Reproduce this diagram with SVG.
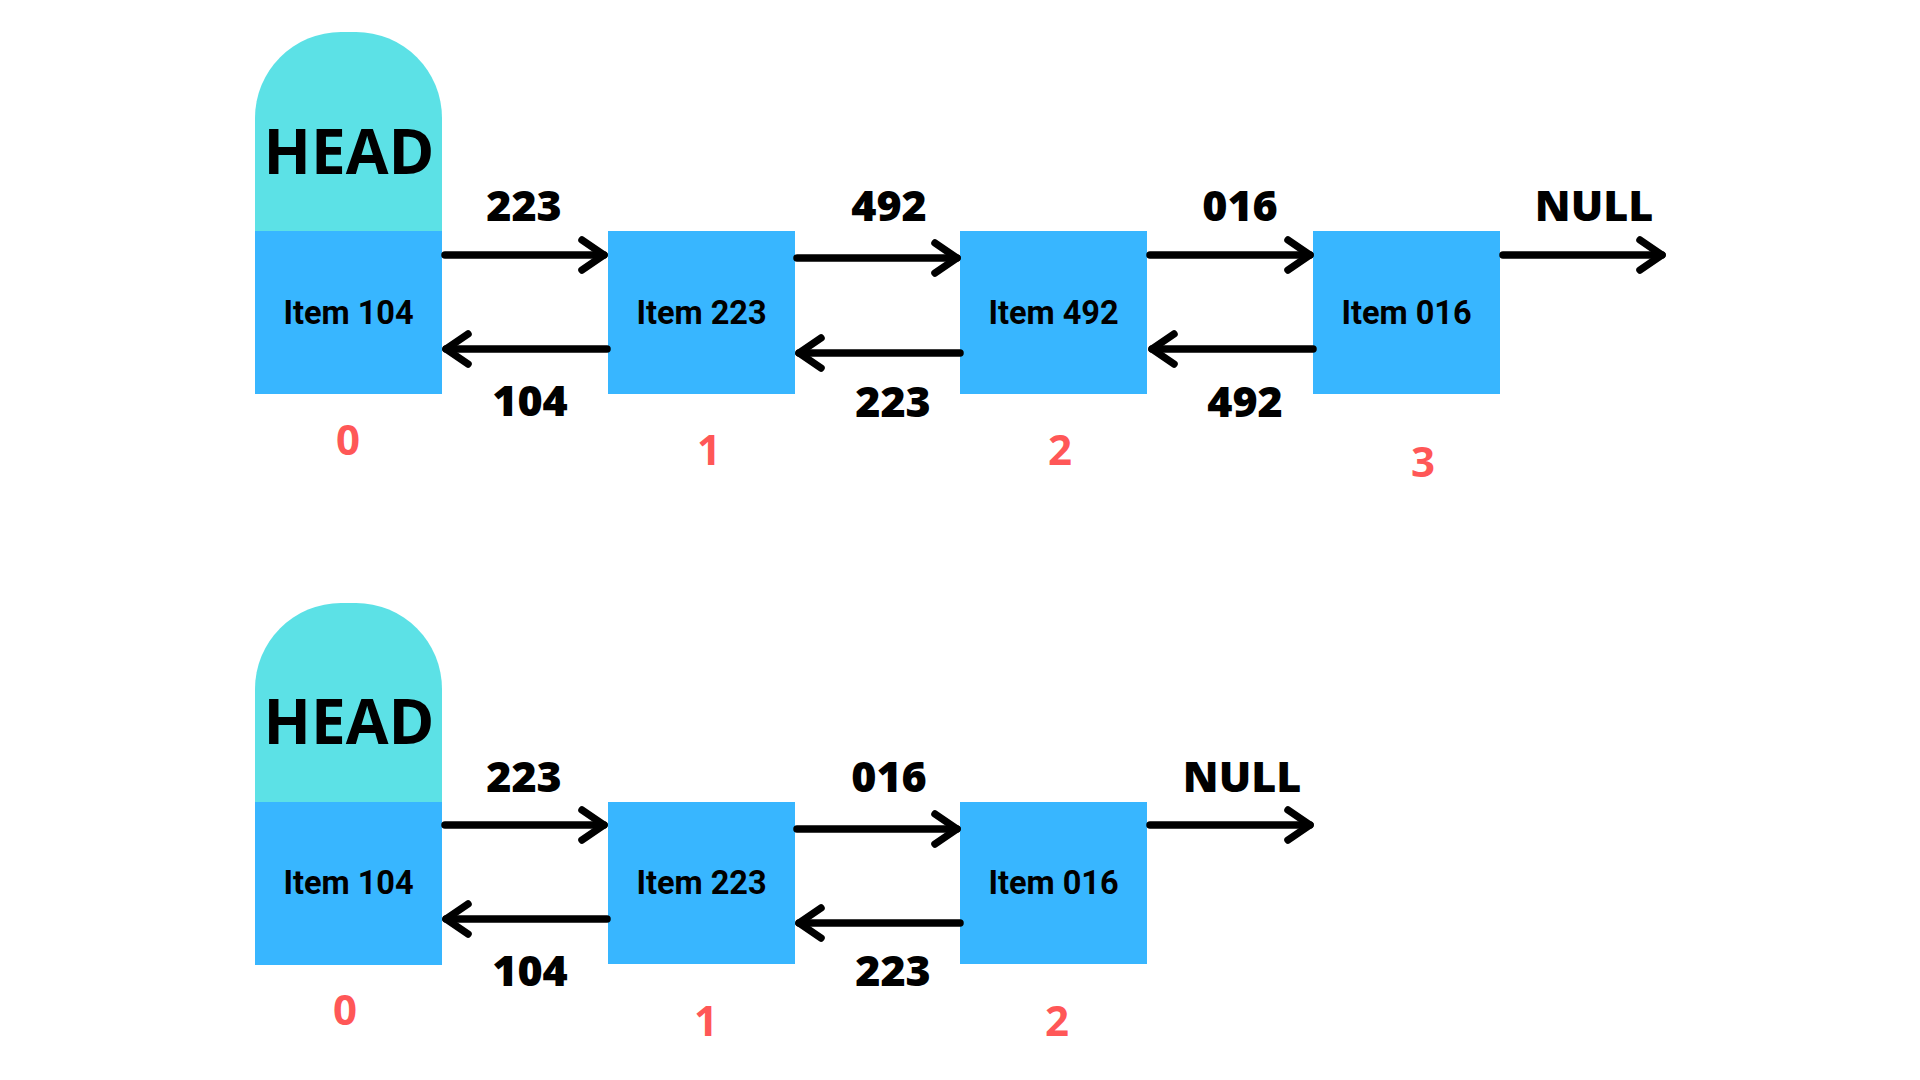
<svg xmlns="http://www.w3.org/2000/svg" width="1920" height="1080" viewBox="0 0 1920 1080">
<style>
.head{fill:#5CE1E6}
.box{fill:#38B6FF}
.ht{font-family:"Open Sans","Noto Sans",sans-serif;font-weight:700;font-size:62px;fill:#000;text-anchor:middle}
.it{font-family:Roboto,"Noto Sans",sans-serif;font-weight:700;font-size:32.5px;fill:#000;text-anchor:middle}
.lb{font-family:"Open Sans","Noto Sans",sans-serif;font-weight:800;font-size:43px;fill:#000;text-anchor:middle}
.ix{font-family:"Open Sans","Noto Sans",sans-serif;font-weight:700;font-size:42px;fill:#FF5757;text-anchor:middle}
.ar{fill:none;stroke:#000;stroke-width:7.5;stroke-linecap:round;marker-end:url(#chev)}
</style>
<defs>
<marker id="chev" markerUnits="userSpaceOnUse" orient="auto" refX="0" refY="0" markerWidth="40" markerHeight="40" viewBox="-30 -20 40 40" overflow="visible">
<path d="M-22,-15 L0,0 L-22,15" fill="none" stroke="#000" stroke-width="7.5" stroke-linecap="round" stroke-linejoin="round"/>
</marker>
</defs>
<rect width="1920" height="1080" fill="#fff"/>

<!-- Top list -->
<g id="top-head">
<path class="head" d="M255,231 V118 A86,86 0 0 1 341,32 H356 A86,86 0 0 1 442,118 V231 Z"/>
<text class="ht" x="349" y="174">HEAD</text>
</g>
<g id="top-node0">
<rect class="box" x="255" y="231" width="187" height="163"/>
<text class="it" x="348.5" y="324">Item 104</text>
<text class="ix" x="348" y="455">0</text>
</g>
<g id="top-node1">
<rect class="box" x="608" y="231" width="187" height="163"/>
<text class="it" x="701.5" y="324">Item 223</text>
<text class="ix" x="709" y="465">1</text>
</g>
<g id="top-node2">
<rect class="box" x="960" y="231" width="187" height="163"/>
<text class="it" x="1053.5" y="324">Item 492</text>
<text class="ix" x="1060" y="465">2</text>
</g>
<g id="top-node3">
<rect class="box" x="1313" y="231" width="187" height="163"/>
<text class="it" x="1406.5" y="324">Item 016</text>
<text class="ix" x="1423" y="477">3</text>
</g>

<!-- Bottom list -->
<g id="bottom-head">
<path class="head" d="M255,802 V689 A86,86 0 0 1 341,603 H356 A86,86 0 0 1 442,689 V802 Z"/>
<text class="ht" x="349" y="744">HEAD</text>
</g>
<g id="bottom-node0">
<rect class="box" x="255" y="802" width="187" height="163"/>
<text class="it" x="348.5" y="894">Item 104</text>
<text class="ix" x="345" y="1025">0</text>
</g>
<g id="bottom-node1">
<rect class="box" x="608" y="802" width="187" height="162"/>
<text class="it" x="701.5" y="894">Item 223</text>
<text class="ix" x="706" y="1036">1</text>
</g>
<g id="bottom-node2">
<rect class="box" x="960" y="802" width="187" height="162"/>
<text class="it" x="1053.5" y="894">Item 016</text>
<text class="ix" x="1057" y="1036">2</text>
</g>

<g id="connectors">
<path class="ar" d="M445,255 H604"/>
<path class="ar" d="M607,349 H446"/>
<path class="ar" d="M797,258 H957"/>
<path class="ar" d="M960,353 H799"/>
<path class="ar" d="M1150,255 H1310"/>
<path class="ar" d="M1313,349 H1152"/>
<path class="ar" d="M1503,255 H1662"/>

<path class="ar" d="M445,825 H604"/>
<path class="ar" d="M607,919 H446"/>
<path class="ar" d="M797,829 H957"/>
<path class="ar" d="M960,923 H799"/>
<path class="ar" d="M1150,825 H1310"/>
</g>

<g id="labels">
<text class="lb" x="524" y="221">223</text>
<text class="lb" x="889" y="221">492</text>
<text class="lb" x="1240" y="221">016</text>
<text class="lb" x="1594" y="221">NULL</text>
<text class="lb" x="530" y="416">104</text>
<text class="lb" x="893" y="417">223</text>
<text class="lb" x="1245" y="417">492</text>

<text class="lb" x="524" y="792">223</text>
<text class="lb" x="889" y="792">016</text>
<text class="lb" x="1242" y="792">NULL</text>
<text class="lb" x="530" y="986">104</text>
<text class="lb" x="893" y="986">223</text>
</g>
</svg>
